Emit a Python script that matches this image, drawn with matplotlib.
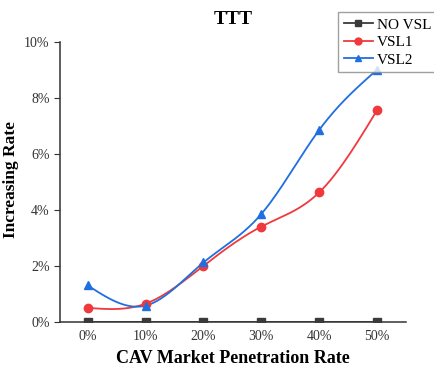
import numpy as np
import matplotlib.pyplot as plt
from matplotlib.ticker import FuncFormatter

plt.rcParams['font.family'] = ['Liberation Serif', 'DejaVu Serif']

rates = ['0%', '10%', '20%', '30%', '40%', '50%']
no_vsl = [0, 0, 0, 0, 0, 0]
vsl1 = [0.50, 0.65, 2.00, 3.40, 4.62, 7.55]
vsl2 = [1.30, 0.58, 2.12, 3.85, 6.85, 9.00]


def smooth(y, n=200):
    # natural cubic spline through the points
    y = np.asarray(y, float)
    x = np.arange(len(y), dtype=float)
    m = len(x)
    A = np.zeros((m, m))
    b = np.zeros(m)
    A[0, 0] = A[-1, -1] = 1
    for i in range(1, m - 1):
        A[i, i - 1], A[i, i], A[i, i + 1] = 1, 4, 1
        b[i] = 6 * (y[i + 1] - 2 * y[i] + y[i - 1])
    M = np.linalg.solve(A, b)
    xs = np.linspace(0, m - 1, n)
    k = np.clip(np.floor(xs).astype(int), 0, m - 2)
    t = xs - k
    ys = ((1 - t) * y[k] + t * y[k + 1]
          + ((1 - t) ** 3 - (1 - t)) * M[k] / 6 + (t ** 3 - t) * M[k + 1] / 6)
    return xs, ys


fig = plt.figure(figsize=(4.35, 3.67), dpi=100)
ax = fig.add_axes([0.138, 0.123, 0.795, 0.763])

x = np.arange(len(rates))
series = [('NO VSL', no_vsl, '#3a3a3a', 's', True),
          ('VSL1', vsl1, '#f0393c', 'o', False),
          ('VSL2', vsl2, '#1f6fe0', '^', False)]
for name, vals, col, mk, clip in series:
    xs, ys = smooth(vals)
    ax.plot(xs, ys, color=col, lw=1.3, zorder=2)
    ax.plot(x, vals, linestyle='none', marker=mk, color=col, ms=6, zorder=3, clip_on=clip)
    ax.plot([], [], color=col, marker=mk, ms=5, lw=1.3, label=name)

ax.set_xlim(-0.48, 5.5)
ax.set_ylim(0, 10)
ax.set_xticks(x)
ax.set_xticklabels(rates)
ax.set_yticks(np.arange(0, 11, 2))
ax.yaxis.set_major_formatter(FuncFormatter(lambda v, p: f'{v:.0f}%'))
ax.tick_params(axis='x', length=0, labelsize=10, pad=6, colors='#333333')
ax.tick_params(axis='y', length=4, labelsize=10, colors='#333333')
for s in ['top', 'right']:
    ax.spines[s].set_visible(False)
for s in ['left', 'bottom']:
    ax.spines[s].set_color('#333333')
    ax.spines[s].set_linewidth(1.1)

ax.set_xlabel('CAV Market Penetration Rate', fontsize=13, fontweight='bold', labelpad=5)
ax.set_ylabel('Increasing Rate', fontsize=12.5, fontweight='bold')
ax.yaxis.set_label_coords(-0.118, 0.51)
ax.set_title('TTT', fontsize=14, fontweight='bold', pad=13)

fig.legend(loc='upper left', bbox_to_anchor=(0.778, 0.966), fontsize=11, frameon=True,
           fancybox=False, edgecolor='#888888', handlelength=1.9, handletextpad=0.25,
           borderpad=0.35, labelspacing=0.25, borderaxespad=0)

fig.savefig('out.png', dpi=100)
